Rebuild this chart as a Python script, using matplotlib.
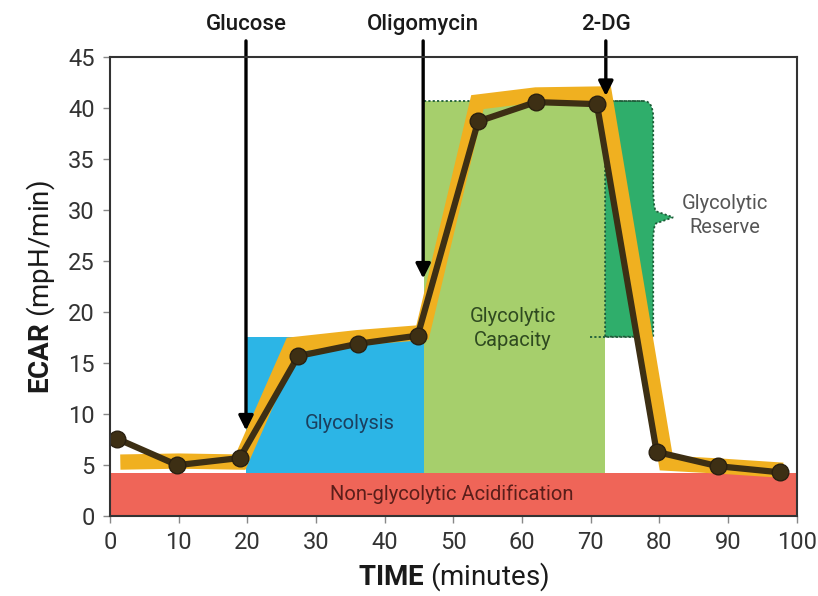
import matplotlib.pyplot as plt
from matplotlib.patches import Rectangle
from matplotlib.path import Path
import matplotlib.patches as mpatches

# measured ECAR trace
time_min = [1, 9.8, 18.9, 27.4, 36.1, 44.8, 53.6, 62.0, 70.9, 79.6, 88.5, 97.5]
ecar = [7.6, 5.0, 5.7, 15.7, 16.9, 17.7, 38.7, 40.6, 40.4, 6.3, 4.9, 4.3]

# idealised profile drawn behind the trace
ideal_t = [1.5, 10, 19, 26.5, 36, 45.5, 53.5, 62, 72, 81, 89, 98]
ideal_ecar = [5.3, 5.4, 5.3, 16.8, 17.5, 18.0, 40.6, 41.3, 41.4, 5.2, 4.9, 4.5]

# injections: name, time, arrow tip
injections = ["Glucose", "Oligomycin", "2-DG"]
inject_t = [19.8, 45.6, 72.2]
inject_tip = [8.4, 23.3, 41.2]

# phase levels
non_glyco = 4.2
glyco_level = 17.6
capacity_level = 40.7
glyco_start, glyco_end = 19.8, 45.7
cap_end = 72.1
reserve_edge = 79.1

plt.rcParams['font.family'] = ['Roboto', 'DejaVu Sans']
plt.rcParams['mathtext.fontset'] = 'custom'
plt.rcParams['mathtext.bf'] = 'Roboto:bold'
plt.rcParams['mathtext.rm'] = 'Roboto'

fig = plt.figure(figsize=(8.18, 5.96), dpi=100)
ax = fig.add_axes([0.1345, 0.134, 0.8395, 0.77])

# shaded phases
ax.add_patch(Rectangle((0, 0), 100, non_glyco, color='#ef6558', lw=0, zorder=1))
ax.add_patch(Rectangle((glyco_start, non_glyco), glyco_end - glyco_start,
                       glyco_level - non_glyco, color='#2cb5e6', lw=0, zorder=1))
ax.add_patch(Rectangle((glyco_end, non_glyco), cap_end - glyco_end,
                       capacity_level - non_glyco, color='#a6cf6c', lw=0, zorder=1))

# reserve block with a brace on its right edge
e = reserve_edge
verts = [(cap_end, glyco_level), (cap_end, capacity_level), (e - 1.4, capacity_level),
         (e, capacity_level), (e, capacity_level - 1.6),
         (e, 32.3), (e, 30.2), (e + 0.4, 29.9), (e + 2.9, 29.3),
         (e + 0.4, 28.7), (e, 28.4), (e, 27.0),
         (e, glyco_level), (cap_end, glyco_level)]
codes = [Path.MOVETO, Path.LINETO, Path.LINETO,
         Path.CURVE3, Path.CURVE3,
         Path.LINETO, Path.CURVE3, Path.CURVE3, Path.LINETO,
         Path.LINETO, Path.CURVE3, Path.CURVE3,
         Path.LINETO, Path.CLOSEPOLY]
ax.add_patch(mpatches.PathPatch(Path(verts, codes), facecolor='#2fae6b',
                                edgecolor='#1d5c38', lw=1.3, ls=(0, (1.2, 1.2)), zorder=1))
ax.plot([glyco_end, e - 1.4], [capacity_level, capacity_level], color='#1d5c38',
        lw=1.3, ls=(0, (1.2, 1.2)), zorder=1.5)
ax.plot([69.9, e], [glyco_level, glyco_level], color='#1d5c38',
        lw=1.3, ls=(0, (1.2, 1.2)), zorder=1.5)

# profile band and measured trace
ax.plot(ideal_t, ideal_ecar, color='#f0b020', lw=11, solid_capstyle='butt',
        solid_joinstyle='miter', zorder=2)
ax.plot(time_min, ecar, color='#3d2f14', lw=4.5, marker='o', ms=12,
        mfc='#3d2f14', mec='#2a2010', zorder=3)

# phase labels
lab = dict(ha='center', va='center', fontsize=14.5, linespacing=1.3, zorder=4)
ax.text(34.9, 9.1, "Glycolysis", color='#1b3f5e', **lab)
ax.text(58.7, 18.4, "Glycolytic\nCapacity", color='#2f4a20', **lab)
ax.text(89.5, 29.5, "Glycolytic\nReserve", color='#555555', **lab)
ax.text(49.8, 2.1, "Non-glycolytic Acidification", color='#5a1e1a', **lab)

# injection arrows
for name, t, tip in zip(injections, inject_t, inject_tip):
    ax.annotate("", xy=(t, tip), xytext=(t, 46.6), annotation_clip=False,
                arrowprops=dict(arrowstyle='-|>', color='black', lw=2.4,
                                mutation_scale=22, shrinkA=0, shrinkB=0), zorder=5)
    ax.text(t, 48.2, name, ha='center', va='center', fontsize=16, fontweight='medium',
            color='#1a1a1a', clip_on=False)

ax.set_xlim(0, 100)
ax.set_ylim(0, 45)
ax.set_xticks(range(0, 101, 10))
ax.set_yticks(range(0, 46, 5))
ax.tick_params(direction='out', length=5, width=1, colors='#888888', labelcolor='#333333',
               labelsize=17, pad=6)
for s in ax.spines.values():
    s.set_color('#333333')
    s.set_linewidth(1.5)
    s.set_zorder(6)

ax.set_xlabel(r"$\bf{TIME}$ (minutes)", fontsize=20, color='#1a1a1a', labelpad=4)
ax.set_ylabel(r"$\bf{ECAR}$ (mpH/min)", fontsize=20, color='#1a1a1a', labelpad=8)

fig.savefig("out.png", dpi=100)
